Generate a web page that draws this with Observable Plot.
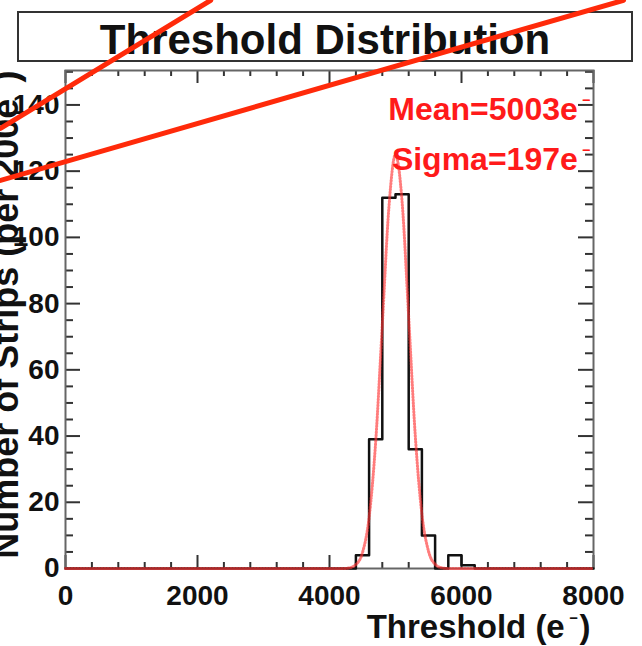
<!DOCTYPE html>
<html><head><meta charset="utf-8">
<script src="https://cdn.jsdelivr.net/npm/d3@7"></script>
<script src="https://cdn.jsdelivr.net/npm/@observablehq/plot@0.6"></script>
<style>
body{margin:0;background:#fff;}
#wrap{position:relative;width:642px;height:646px;overflow:hidden;background:#fff;}
#title{position:absolute;left:17px;top:11px;width:612px;height:47px;border:2px solid #333;font:bold 42px "Liberation Sans",Arial,sans-serif;text-align:center;line-height:53px;z-index:0;color:#111;}
#chart{position:absolute;left:0;top:0;z-index:1;}
</style></head><body>
<div id="wrap"><div id="title">Threshold Distribution</div><div id="chart"></div></div>
<script>
// Histogram bins (200 e- wide)
const binStart = [4200, 4400, 4600, 4800, 5000, 5200, 5400, 5600, 5800, 6000, 6200];
const binCount = [0, 4, 39, 112, 113, 36, 10, 0, 4, 1, 0];
// Gaussian fit curve
const fitX = [0, 4200, 4300, 4400, 4500, 4600, 4700, 4800, 4900, 5000, 5100, 5200, 5300, 5400, 5500, 5600, 5700, 5800, 8000];
const fitY = [0, 0, 0.2, 1.2, 4.8, 15.4, 38.3, 73.5, 109, 125, 110.7, 75.8, 40, 16.4, 5.2, 1.3, 0.2, 0, 0];
// Tick labels
const xTickLabels = [0, 2000, 4000, 6000, 8000];
const yTickLabels = [0, 20, 40, 60, 80, 100, 120, 140];
// Text (a "^-" marks the superscript minus)
const statLabels = ["Mean=5003e^-", "Sigma=197e^-"];
const xTitle = "Threshold (e^-)";
const yTitle = "Number of Strips (per 200e^-)";
// Red annotation strokes over the picture (data coordinates)
const overlay1X = [-985, 2200];
const overlay1Y = [132.9, 171.6];
const overlay2X = [-985, 8455];
const overlay2Y = [117.2, 171.6];

const W = 642, H = 646, mL = 65, mR = 49, mT = 70, mB = 78;
const iw = W - mL - mR, ih = H - mT - mB;

const hist = [{x: 0, y: 0}, ...binStart.map((x, i) => ({x, y: binCount[i]})), {x: 8000, y: 0}];
const fit = fitX.map((x, i) => ({x, y: fitY[i]}));
const ov1 = overlay1X.map((x, i) => ({x, y: overlay1Y[i]}));
const ov2 = overlay2X.map((x, i) => ({x, y: overlay2Y[i]}));

const xMinor = d3.range(0, 8001, 400).filter(d => d % 2000 !== 0);
const yMinor = d3.range(0, 151, 5).filter(d => d % 20 !== 0);
const yMajor = d3.range(0, 151, 20);
const tc = "#333";

const plot = Plot.plot({
  width: W, height: H,
  marginLeft: mL, marginRight: mR, marginTop: mT, marginBottom: mB,
  x: {domain: [0, 8000]},
  y: {domain: [0, 150.4]},
  style: {fontFamily: "'Liberation Sans', Arial, sans-serif", fontWeight: "bold", background: "transparent", overflow: "visible", color: "#111"},
  marks: [
    Plot.ruleY(yMajor, {insetRight: iw - 15, stroke: tc, strokeWidth: 2}),
    Plot.ruleY(yMinor, {insetRight: iw - 8, stroke: tc, strokeWidth: 2}),
    Plot.ruleY(yMajor, {insetLeft: iw - 15, stroke: tc, strokeWidth: 2}),
    Plot.ruleY(yMinor, {insetLeft: iw - 8, stroke: tc, strokeWidth: 2}),
    Plot.ruleX(xTickLabels, {insetTop: ih - 13, stroke: tc, strokeWidth: 2}),
    Plot.ruleX(xMinor, {insetTop: ih - 6, stroke: tc, strokeWidth: 2}),
    Plot.ruleX(xTickLabels, {insetBottom: ih - 13, stroke: tc, strokeWidth: 2}),
    Plot.ruleX(xMinor, {insetBottom: ih - 6, stroke: tc, strokeWidth: 2}),
    Plot.axisX({ticks: xTickLabels, tickSize: 0, tickPadding: 17, fontSize: 28, label: null, tickFormat: d => `${d}`}),
    Plot.axisY({ticks: yTickLabels, tickSize: 0, tickPadding: 6, fontSize: 28, label: null, tickFormat: d => `${d}`}),
    Plot.frame({stroke: "#666", strokeWidth: 2}),
    Plot.line(hist, {x: "x", y: "y", curve: "step-after", stroke: "#111", strokeWidth: 2.5}),
    Plot.line(fit, {x: "x", y: "y", curve: "monotone-x", stroke: "#ff3535", strokeWidth: 3, strokeDasharray: "1,2", strokeOpacity: 0.65}),
    Plot.text([statLabels[0]], {frameAnchor: "top-right", textAnchor: "end", lineAnchor: "middle", dx: -3, dy: 39, fill: "#ff1a1a", fontSize: 32}),
    Plot.text([statLabels[1]], {frameAnchor: "top-right", textAnchor: "end", lineAnchor: "middle", dx: -3, dy: 89, fill: "#ff1a1a", fontSize: 32}),
    Plot.text([xTitle], {frameAnchor: "bottom-right", textAnchor: "end", lineAnchor: "bottom", dx: -3, dy: 69, fontSize: 33, fill: "#111"}),
    Plot.text([yTitle], {frameAnchor: "top-left", textAnchor: "end", lineAnchor: "bottom", rotate: -90, dx: -48, dy: 0, fontSize: 36, fill: "#111"}),
    Plot.line(ov1, {x: "x", y: "y", stroke: "#ff2a0a", strokeWidth: 5}),
    Plot.line(ov2, {x: "x", y: "y", stroke: "#ff2a0a", strokeWidth: 5})
  ]
});
// render "^-" as a small raised minus (ROOT style superscript)
d3.select(plot).selectAll("text").each(function() {
  const t = this.textContent;
  if (!t.includes("^-")) return;
  const [pre, post] = t.split("^-");
  const sel = d3.select(this);
  sel.text(pre);
  sel.append("tspan").attr("font-size", "45%").attr("dx", "0.3em").attr("dy", "-1.0em").text("\u2212");
  if (post) sel.append("tspan").attr("dx", "0.05em").attr("dy", "0.45em").text(post);
});
document.getElementById("chart").appendChild(plot);
</script>
</body></html>
